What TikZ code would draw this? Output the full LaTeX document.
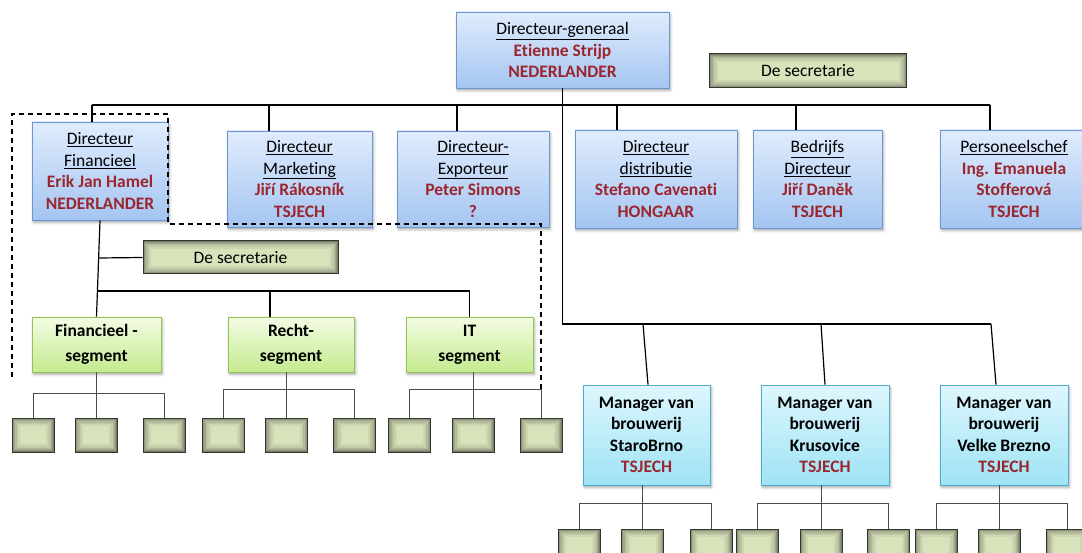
\documentclass[tikz,border=0pt]{standalone}
\usepackage{fontspec}
\setmainfont{Carlito}[Ligatures={NoCommon}]
\usetikzlibrary{shadows.blur}

\definecolor{namered}{RGB}{155,38,45}
\definecolor{blueTop}{RGB}{224,236,253}
\definecolor{blueBot}{RGB}{164,197,241}
\definecolor{blueEdge}{RGB}{108,150,206}
\definecolor{greenTop}{RGB}{243,252,228}
\definecolor{greenBot}{RGB}{196,235,142}
\definecolor{greenEdge}{RGB}{148,194,88}
\definecolor{cyanTop}{RGB}{222,247,253}
\definecolor{cyanBot}{RGB}{158,227,245}
\definecolor{cyanEdge}{RGB}{78,172,204}
\definecolor{oliveFill}{RGB}{216,227,188}
\definecolor{oliveEdge}{RGB}{52,52,48}

\newcommand{\rednm}[1]{\textcolor{namered}{\bfseries #1}}

\tikzset{
  basebox/.style={rectangle, inner sep=0pt, align=center,
    font=\fontsize{17.5}{21.5}\selectfont},
  softshadow/.style={blur shadow={shadow xshift=1.5pt, shadow yshift=-2.5pt,
    shadow blur radius=2.5pt, shadow opacity=35}},
  dirbox/.style={basebox, softshadow, draw=blueEdge, line width=0.9pt,
    top color=blueTop, bottom color=blueBot},
  segbox/.style={basebox, softshadow, draw=greenEdge, line width=0.9pt,
    top color=greenTop, bottom color=greenBot,
    font=\fontsize{17.5}{25}\selectfont\bfseries,
    minimum height=55pt},
  mgrbox/.style={basebox, softshadow, draw=cyanEdge, line width=0.9pt,
    top color=cyanTop, bottom color=cyanBot,
    font=\fontsize{17.5}{21.5}\selectfont\bfseries,
    minimum height=100pt},
  innerglow/.style={path picture={
      \foreach \w/\o in {16/0.05, 12/0.06, 9/0.07, 6/0.09, 3.5/0.12, 1.5/0.16}
        \draw[black, opacity=\o, line width=\w pt]
          (path picture bounding box.south west) rectangle (path picture bounding box.north east);
    }},
  secbox/.style={basebox, innerglow, draw=oliveEdge, line width=1pt, fill=oliveFill},
  leafbox/.style={rectangle, inner sep=0pt, innerglow, draw=oliveEdge, line width=1pt,
    fill=oliveFill, minimum width=42pt, minimum height=34pt},
  conn/.style={draw=black, line width=1.2pt},
  leafconn/.style={draw=black!70, line width=1pt},
  groupframe/.style={draw=black, line width=1.1pt, dash pattern=on 5pt off 4pt}
}

\begin{document}
\begin{tikzpicture}[x=1pt, y=-1pt]
\useasboundingbox (0,0) rectangle (1082,553);

% ---- management ----
\node[dirbox, minimum width=213pt, minimum height=76pt] (dg) at (562.5,50)
  {\underline{Directeur-generaal}\\\rednm{Etienne Strijp}\\\rednm{NEDERLANDER}};
\node[secbox, minimum width=197pt, minimum height=34pt] (sec1) at (808,71) {De secretarie};

% ---- directors ----
\node[dirbox, minimum width=136pt, minimum height=98pt] (fin) at (100,171)
  {\underline{Directeur}\\\underline{Financieel}\\\rednm{Erik Jan Hamel}\\\rednm{NEDERLANDER}};
\node[dirbox, minimum width=145pt, minimum height=96pt] (mkt) at (299.5,179)
  {\underline{Directeur}\\\underline{Marketing}\\\rednm{Jiří Rákosník}\\\rednm{TSJECH}};
\node[dirbox, minimum width=152pt, minimum height=96pt] (exp) at (473,179)
  {\underline{Directeur-}\\\underline{Exporteur}\\\rednm{Peter Simons}\\\rednm{?}};
\node[dirbox, minimum width=162pt, minimum height=98pt] (dist) at (656,179)
  {\underline{Directeur}\\\underline{distributie}\\\rednm{Stefano Cavenati}\\\rednm{HONGAAR}};
\node[dirbox, minimum width=129pt, minimum height=98pt] (bedr) at (817.5,179)
  {\underline{Bedrijfs}\\\underline{Directeur}\\\rednm{Jiří Daněk}\\\rednm{TSJECH}};
\node[dirbox, minimum width=148pt, minimum height=98pt] (pers) at (1014,179)
  {\underline{Personeelschef}\\\rednm{Ing. Emanuela}\\\rednm{Stofferová}\\\rednm{TSJECH}};

% ---- finance department ----
\node[secbox, minimum width=195pt, minimum height=33pt] (sec2) at (240.5,257.5) {De secretarie};
\node[segbox, minimum width=129pt] (finseg) at (96.5,344.5) {Financieel -\\segment};
\node[segbox, minimum width=126pt] (rseg) at (291,344.5) {Recht-\\segment};
\node[segbox, minimum width=127pt] (itseg) at (469.5,344.5) {IT\\segment};

% ---- breweries ----
\node[mgrbox, minimum width=127pt] (m1) at (646.5,435)
  {Manager van\\brouwerij\\StaroBrno\\\textcolor{namered}{TSJECH}};
\node[mgrbox, minimum width=128pt] (m2) at (825,435)
  {Manager van\\brouwerij\\Krusovice\\\textcolor{namered}{TSJECH}};
\node[mgrbox, minimum width=128pt] (m3) at (1004,435)
  {Manager van\\brouwerij\\Velke Brezno\\\textcolor{namered}{TSJECH}};

% ---- leaf units ----
\foreach \n/\x/\y in {fa/33/435, fb/96/435, fc/164/435,
                      ra/223.5/435, rb/286.5/435, rc/354.5/435,
                      ia/409.5/435, ib/473/435, ic/541/435,
                      ka/579/546, kb/642.5/546, kc/711/546,
                      la/757/546, lb/821/546, lc/888.5/546,
                      na/936/546, nb/999/546, nc/1067/546}
  \node[leafbox] (\n) at (\x,\y) {};

% ---- connectors: top level ----
\coordinate (tl) at (92,105);
\coordinate (tr) at (990,105);
\draw[conn] (tl) -- (tr);
\draw[conn] (tl) -- (tl |- fin.north);
\foreach \x/\n in {269/mkt, 457/exp, 617/dist, 796/bedr, 990/pers}{
  \coordinate (d\n) at (\x,105);
  \draw[conn] (d\n) -- (d\n |- \n.north);
}

% ---- connectors: breweries ----
\coordinate (ml) at (562.5,324);
\coordinate (j1) at (643,324);
\coordinate (j2) at (821,324);
\coordinate (j3) at (991,324);
\draw[conn] (dg.south) -- (ml) -- (j3);
\draw[conn] (j1) -- ([xshift=1.5pt]m1.north);
\draw[conn] (j2) -- (m2.north);
\draw[conn] (j3) -- ([xshift=-8pt]m3.north);

% ---- connectors: finance department ----
\coordinate (s2j) at (98.8,258);
\coordinate (sj) at (98.3,291);
\coordinate (rj) at (270,291);
\draw[conn] (fin.south) -- (finseg.north);
\draw[conn] (s2j) -- (sec2.west);
\draw[conn] (sj) -| (itseg.north);
\draw[conn] (rj) -- (rj |- rseg.north);

% ---- connectors: leaf units ----
\foreach \p/\a/\b/\c/\h in {finseg/fa/fb/fc/393, rseg/ra/rb/rc/389, itseg/ia/ib/ic/389,
                            m1/ka/kb/kc/503, m2/la/lb/lc/503, m3/na/nb/nc/503}{
  \coordinate (h\p) at (0,\h);
  \draw[leafconn] (\p.south -| \b.north) -- (\b.north);
  \draw[leafconn] (\a.north) -- (\a.north |- h\p) -- (\c.north |- h\p) -- (\c.north);
}

% ---- finance group frame ----
\draw[groupframe] (12,377) -- (12,114) -- (168,114) -- (168,224) -- (541,224) -- (541,389);
\end{tikzpicture}
\end{document}
